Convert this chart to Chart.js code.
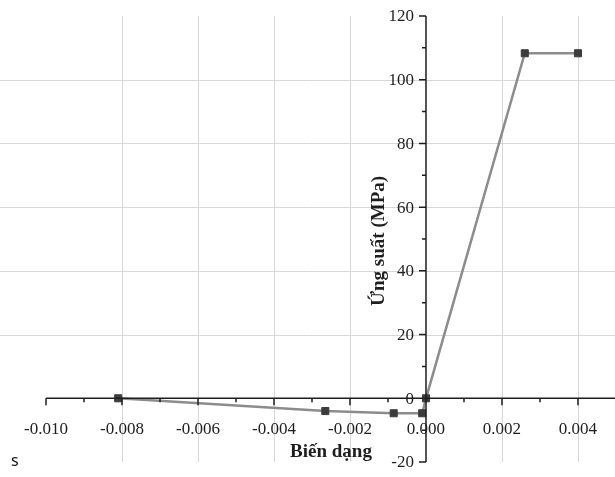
<!DOCTYPE html>
<html>
<head>
<meta charset="utf-8">
<script src="https://cdn.jsdelivr.net/npm/chart.js@4"></script>
<style>
  html, body { margin: 0; padding: 0; background: #fff; }
  .wrap { position: relative; width: 615px; height: 477px; }
  .note { position: absolute; left: 11px; top: 449px; font: 16px "Noto Sans", sans-serif; color: #111; }
</style>
</head>
<body>
<div class="wrap">
  <canvas id="stressChart" width="615" height="477"></canvas>
  <div class="note">s</div>
</div>
<script>
// strain (x) and stress in MPa (y)
const strain = [-0.0081, -0.00265, -0.00085, -0.0001, 0, 0.0026, 0.0040];
const stress = [0, -4.0, -4.7, -4.7, 0, 108.3, 108.3];

const xTickValues = [-0.010, -0.008, -0.006, -0.004, -0.002, 0.000, 0.002, 0.004];
const xTickLabels = ["-0.010", "-0.008", "-0.006", "-0.004", "-0.002", "0.000", "0.002", "0.004"];
const xMinorTicks = [-0.009, -0.007, -0.005, -0.003, -0.001, 0.001, 0.003];
const yTickValues = [-20, 0, 20, 40, 60, 80, 100, 120];
const yTickLabels = ["-20", "0", "20", "40", "60", "80", "100", "120"];
const yMinorTicks = [-10, 10, 30, 50, 70, 90, 110];
const xGridValues = [-0.008, -0.006, -0.004, -0.002, 0.002, 0.004];
const yGridValues = [20, 40, 60, 80, 100];

const xTitle = "Biến dạng";
const yTitle = "Ứng suất (MPa)";

const gridColor = "#d6d6d6";
const axisColor = "#1e1e1e";
const serif = '"Liberation Serif", "Times New Roman", serif';

// light grid behind the line
const gridLines = {
    id: "gridLines",
    beforeDatasetsDraw(chart) {
        const c = chart.ctx, a = chart.chartArea;
        const xs = chart.scales.x, ys = chart.scales.y;
        c.save();
        c.strokeStyle = gridColor;
        c.lineWidth = 1;
        c.beginPath();
        xGridValues.forEach(v => { const p = Math.round(xs.getPixelForValue(v)) + 0.5; c.moveTo(p, a.top); c.lineTo(p, a.bottom); });
        yGridValues.forEach(v => { const p = Math.round(ys.getPixelForValue(v)) + 0.5; c.moveTo(a.left, p); c.lineTo(a.right, p); });
        c.stroke();
        c.restore();
    }
};

// axes cross at the origin, like the Origin plot
const crossAxes = {
    id: "crossAxes",
    afterDatasetsDraw(chart) {
        const c = chart.ctx;
        const xs = chart.scales.x, ys = chart.scales.y;
        const x0 = xs.getPixelForValue(0);
        const y0 = ys.getPixelForValue(0);
        const xl = xs.getPixelForValue(xTickValues[0]);
        const xr = chart.chartArea.right;
        const yt = ys.getPixelForValue(yTickValues[yTickValues.length - 1]);
        const yb = ys.getPixelForValue(yTickValues[0]);
        c.save();
        c.strokeStyle = axisColor;
        c.lineWidth = 1.5;
        c.beginPath();
        c.moveTo(xl, y0); c.lineTo(xr, y0);
        c.moveTo(x0, yt); c.lineTo(x0, yb);
        xTickValues.forEach(v => { const p = xs.getPixelForValue(v); c.moveTo(p, y0); c.lineTo(p, y0 + 7); });
        xMinorTicks.forEach(v => { const p = xs.getPixelForValue(v); c.moveTo(p, y0); c.lineTo(p, y0 + 4); });
        yTickValues.forEach(v => { const p = ys.getPixelForValue(v); c.moveTo(x0, p); c.lineTo(x0 - 7, p); });
        yMinorTicks.forEach(v => { const p = ys.getPixelForValue(v); c.moveTo(x0, p); c.lineTo(x0 - 4, p); });
        c.stroke();

        c.fillStyle = axisColor;
        c.font = "17px " + serif;
        c.textAlign = "center";
        c.textBaseline = "middle";
        xTickValues.forEach((v, i) => c.fillText(xTickLabels[i], xs.getPixelForValue(v), y0 + 31));
        c.textAlign = "right";
        yTickValues.forEach((v, i) => c.fillText(yTickLabels[i], x0 - 12, ys.getPixelForValue(v) + 1));

        c.font = "bold 19px " + serif;
        c.textAlign = "center";
        c.textBaseline = "alphabetic";
        c.fillText(xTitle, x0 - 95, y0 + 59);
        c.translate(x0 - 42, ys.getPixelForValue(50) + 2);
        c.rotate(-Math.PI / 2);
        c.fillText(yTitle, 0, 0);
        c.restore();
    }
};

const ctx = document.getElementById("stressChart").getContext("2d");
const stressChart = new Chart(ctx, {
    type: "scatter",
    data: {
        datasets: [{
            data: strain.map((x, i) => ({ x: x, y: stress[i] })),
            showLine: true,
            borderColor: "#8c8c8c",
            borderWidth: 2.5,
            pointStyle: "rect",
            pointRadius: 5,
            pointBackgroundColor: "#3c3c3c",
            pointBorderColor: "#3c3c3c",
            pointBorderWidth: 1
        }]
    },
    options: {
        responsive: false,
        animation: false,
        layout: { autoPadding: false, padding: { left: 0, right: 0, top: 16, bottom: 15 } },
        plugins: { legend: { display: false }, tooltip: { enabled: false } },
        scales: {
            x: { type: "linear", display: false, min: -0.011211, max: 0.004974 },
            y: { type: "linear", display: false, min: -20, max: 120 }
        }
    },
    plugins: [gridLines, crossAxes]
});
</script>
</body>
</html>
